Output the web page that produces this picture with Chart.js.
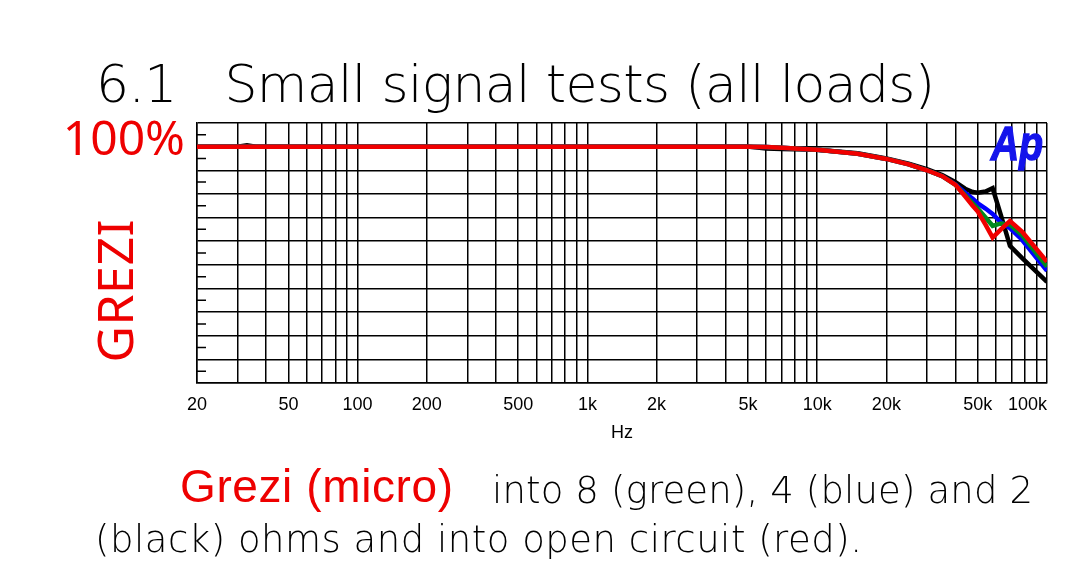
<!DOCTYPE html>
<html>
<head>
<meta charset="utf-8">
<script src="https://cdn.jsdelivr.net/npm/chart.js@4"></script>
<style>
  html, body { margin: 0; padding: 0; background: #fff; }
  #wrap { position: relative; width: 1079px; height: 571px; overflow: hidden; }
  #chart { position: absolute; left: 0; top: 0; }
  #labels { position: absolute; left: 0; top: 0; pointer-events: none; }
  .thin { font-family: 'DejaVu Sans', sans-serif; font-weight: 200; fill: #000; }
  .red { font-family: 'Noto Sans', sans-serif; fill: #ee0000; }
</style>
</head>
<body>
<div id="wrap">
  <canvas id="chart" width="1079" height="571"></canvas>
  <svg id="labels" width="1079" height="571" xmlns="http://www.w3.org/2000/svg">
    <text class="thin" x="96" y="102" font-size="52" textLength="839" lengthAdjust="spacing" xml:space="preserve">6.1   Small signal tests (all loads)</text>
    <text class="red" transform="translate(133,291) rotate(-90)" text-anchor="middle" font-size="50" textLength="143" lengthAdjust="spacing">GREZI</text>
    <text x="1043" y="160" text-anchor="end" font-family="'Liberation Sans', Arial, sans-serif" font-weight="bold" font-style="italic" font-size="48" fill="#1414eb" stroke="#1414eb" stroke-width="1.5" textLength="52" lengthAdjust="spacingAndGlyphs">Ap</text>
    <text x="180" y="502" font-family="'Liberation Sans', Arial, sans-serif" font-size="46" fill="#ee0000" textLength="273" lengthAdjust="spacing">Grezi (micro)</text>
    <text class="thin" x="492" y="503" font-size="37" textLength="541" lengthAdjust="spacing">into 8 (green), 4 (blue) and 2</text>
    <text class="thin" x="95" y="552" font-size="37" textLength="767" lengthAdjust="spacing">(black) ohms and into open circuit (red).</text>
  </svg>
</div>
<script>
// frequency points (Hz) shared by all four traces
const freqHz = [20, 30, 33, 36, 1000, 5000, 6000, 7000, 10000, 15000, 20000, 25000,
  30000, 35000, 40000, 44000, 47500, 50000, 54000, 58000, 63000, 69000, 78000, 100000];

// level relative to 100% (one grid division = 1 unit)
const openCircuit = [0, 0, 0, 0, 0, 0, -0.02, -0.05, -0.13, -0.3, -0.52, -0.75,
  -1.0, -1.25, -1.62, -2.1, -2.5, -2.75, -3.3, -3.85, -3.5, -3.15, -3.6, -4.87];
const load8 = [0, 0, 0, 0, 0, 0, -0.02, -0.05, -0.13, -0.3, -0.52, -0.75,
  -1.0, -1.25, -1.62, -2.05, -2.4, -2.62, -3.0, -3.35, -3.25, -3.3, -3.75, -5.08];
const load4 = [0, 0, 0, 0, 0, 0, -0.02, -0.05, -0.13, -0.3, -0.52, -0.75,
  -1.0, -1.25, -1.6, -1.95, -2.2, -2.4, -2.62, -2.85, -3.2, -3.45, -3.95, -5.25];
const load2 = [0, 0, 0.06, 0, 0, 0, -0.08, -0.1, -0.13, -0.28, -0.5, -0.72,
  -0.95, -1.2, -1.5, -1.78, -1.92, -1.95, -1.9, -1.76, -2.9, -4.2, -4.72, -5.72];

const xTickValues = [20, 50, 100, 200, 500, 1000, 2000, 5000, 10000, 20000, 50000, 100000];
const xTickLabels = ['20', '50', '100', '200', '500', '1k', '2k', '5k', '10k', '20k', '50k', '100k'];

const LABEL_FONT = "18px 'Liberation Sans', Arial, sans-serif";

// vertical grid at 2..9 x decade
const gridFreqs = [];
for (let d = 10; d <= 100000; d *= 10) {
  for (let m = 1; m < 10; m++) {
    const f = m * d;
    if (f >= 20 && f <= 100000) gridFreqs.push(f);
  }
}

function toPoints(values) {
  return values.map((v, i) => ({ x: freqHz[i], y: v }));
}

const axisTextPlugin = {
  id: 'axisText',
  afterDraw(chart) {
    const { ctx, chartArea } = chart;
    const xs = chart.scales.x;
    const ys = chart.scales.y;
    ctx.save();

    // short minor ticks on the left edge
    ctx.strokeStyle = '#000';
    ctx.lineWidth = 1.5;
    ctx.beginPath();
    for (let v = ys.max - 0.5; v > ys.min; v -= 1) {
      const y = ys.getPixelForValue(v);
      ctx.moveTo(chartArea.left, y);
      ctx.lineTo(chartArea.left + 9, y);
    }
    ctx.stroke();

    // frequency labels
    ctx.fillStyle = '#000';
    ctx.font = LABEL_FONT;
    ctx.textBaseline = 'alphabetic';
    xTickValues.forEach((v, i) => {
      const txt = xTickLabels[i];
      const w = ctx.measureText(txt).width;
      let x = xs.getPixelForValue(v) - w / 2;
      if (x + w > chartArea.right) x = chartArea.right - w;
      ctx.fillText(txt, x, chartArea.bottom + 27);
    });
    ctx.textAlign = 'center';
    ctx.fillText('Hz', (chartArea.left + chartArea.right) / 2, chartArea.bottom + 55);

    // 100% reference label
    ctx.fillStyle = '#ee0000';
    ctx.font = "48px 'Noto Sans', sans-serif";
    ctx.textAlign = 'right';
    ctx.fillText('100%', chartArea.left - 12, ys.getPixelForValue(0) + 8);
    ctx.restore();
  }
};

const lineStyle = { pointRadius: 0, borderWidth: 4.5, tension: 0, fill: false };

new Chart(document.getElementById('chart'), {
  type: 'line',
  plugins: [axisTextPlugin],
  data: {
    datasets: [
      { label: 'open circuit', data: toPoints(openCircuit), borderColor: '#f00000', ...lineStyle },
      { label: '8 ohm', data: toPoints(load8), borderColor: '#008a20', ...lineStyle },
      { label: '4 ohm', data: toPoints(load4), borderColor: '#0000ff', ...lineStyle },
      { label: '2 ohm', data: toPoints(load2), borderColor: '#000000', ...lineStyle },
    ]
  },
  options: {
    responsive: false,
    animation: false,
    layout: { padding: { left: 197, top: 123, right: 32, bottom: 188 } },
    plugins: { legend: { display: false }, tooltip: { enabled: false } },
    scales: {
      x: {
        type: 'logarithmic',
        min: 20,
        max: 100000,
        afterBuildTicks(scale) { scale.ticks = gridFreqs.map(v => ({ value: v })); },
        afterFit(scale) { scale.height = 0; },
        ticks: { display: false },
        grid: { color: '#000', lineWidth: 1.5, drawTicks: false },
        border: { color: '#000', width: 1.5 },
      },
      y: {
        type: 'linear',
        min: -10,
        max: 1,
        afterFit(scale) { scale.width = 0; },
        ticks: { display: false, stepSize: 1 },
        grid: { color: '#000', lineWidth: 1.5, drawTicks: false },
        border: { color: '#000', width: 1.5 },
      }
    }
  }
});
</script>
</body>
</html>
